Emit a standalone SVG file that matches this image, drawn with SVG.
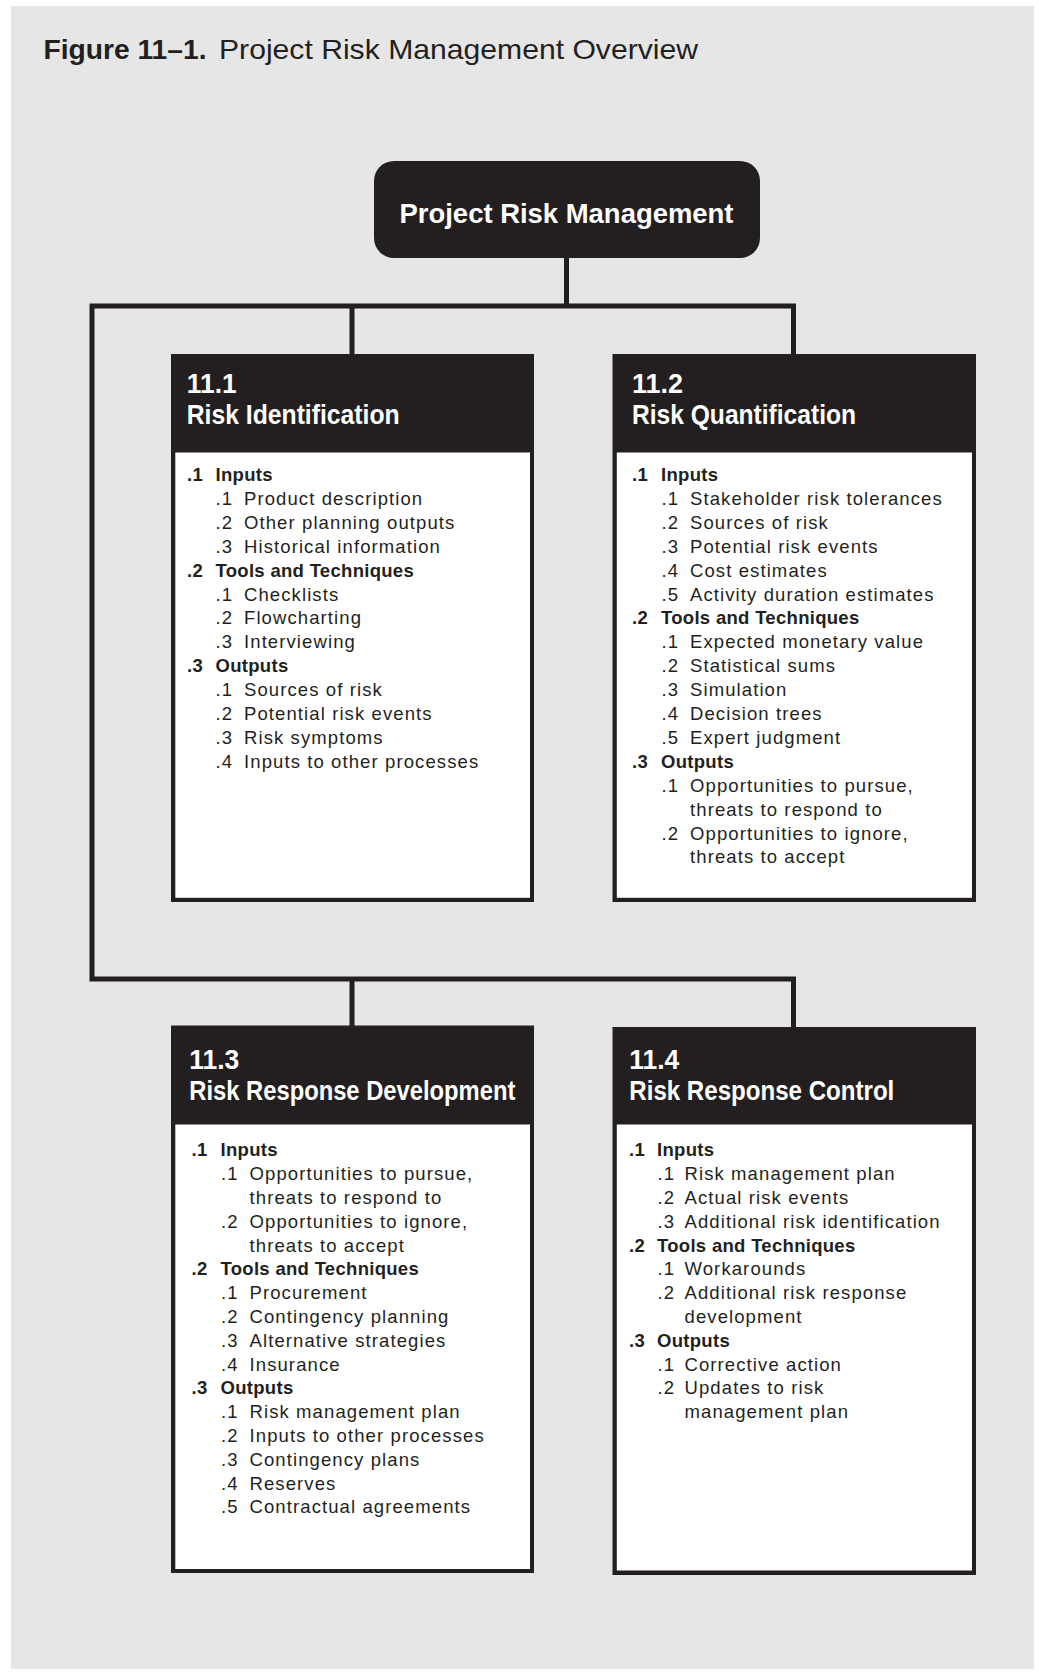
<svg xmlns="http://www.w3.org/2000/svg" width="1039" height="1672" viewBox="0 0 1039 1672">
<style>
.t{font-family:"Liberation Sans",Arial,sans-serif;fill:#231f20}
.b{font-weight:bold;font-size:18.5px;letter-spacing:0.3px}
.r{font-size:18.5px;letter-spacing:1.1px}
.h{font-family:"Liberation Sans",Arial,sans-serif;font-weight:bold;font-size:28px;fill:#ffffff}
.dark{fill:#231f20}
.body{fill:#ffffff}
.conn{fill:none;stroke:#231f20;stroke-width:5;stroke-linejoin:miter}
</style>
<rect x="0" y="0" width="1039" height="1672" fill="#ffffff"/>
<rect x="11" y="6" width="1023" height="1663" fill="#e6e6e6"/>
<g id="title">
<text class="t" x="43.5" y="59.3" font-size="28" font-weight="bold" textLength="163" lengthAdjust="spacingAndGlyphs">Figure 11–1.</text>
<text class="t" x="219" y="59.3" font-size="28" textLength="479" lengthAdjust="spacingAndGlyphs">Project Risk Management Overview</text>
</g>
<g id="connectors">
<path class="conn" d="M566.5 258 V306"/>
<path class="conn" d="M793.5 354 V306 H92 V979 H793.5 V1027"/>
<path class="conn" d="M352 306 V354"/>
<path class="conn" d="M352 979 V1026"/>
</g>
<g id="root">
<rect class="dark" x="374" y="161" width="386" height="97" rx="20" ry="20"/>
<text class="h" x="566.5" y="222.7" font-size="32" text-anchor="middle" textLength="334" lengthAdjust="spacingAndGlyphs">Project Risk Management</text>
</g>
<g id="n11-1">
<rect class="dark" x="171" y="354" width="363" height="548"/>
<rect class="body" x="175.3" y="452.5" width="354.7" height="445.3"/>
<text class="h" x="186.7" y="393.3" textLength="50" lengthAdjust="spacingAndGlyphs">11.1</text>
<text class="h" x="186.7" y="424" textLength="213" lengthAdjust="spacingAndGlyphs">Risk Identification</text>
<text class="t b" x="187" y="481">.1</text><text class="t b" x="215.5" y="481">Inputs</text>
<text class="t r" x="215.5" y="504.9">.1</text><text class="t r" x="244" y="504.9">Product description</text>
<text class="t r" x="215.5" y="528.8">.2</text><text class="t r" x="244" y="528.8">Other planning outputs</text>
<text class="t r" x="215.5" y="552.7">.3</text><text class="t r" x="244" y="552.7">Historical information</text>
<text class="t b" x="187" y="576.6">.2</text><text class="t b" x="215.5" y="576.6">Tools and Techniques</text>
<text class="t r" x="215.5" y="600.5">.1</text><text class="t r" x="244" y="600.5">Checklists</text>
<text class="t r" x="215.5" y="624.4">.2</text><text class="t r" x="244" y="624.4">Flowcharting</text>
<text class="t r" x="215.5" y="648.3">.3</text><text class="t r" x="244" y="648.3">Interviewing</text>
<text class="t b" x="187" y="672.2">.3</text><text class="t b" x="215.5" y="672.2">Outputs</text>
<text class="t r" x="215.5" y="696.1">.1</text><text class="t r" x="244" y="696.1">Sources of risk</text>
<text class="t r" x="215.5" y="720">.2</text><text class="t r" x="244" y="720">Potential risk events</text>
<text class="t r" x="215.5" y="743.9">.3</text><text class="t r" x="244" y="743.9">Risk symptoms</text>
<text class="t r" x="215.5" y="767.8">.4</text><text class="t r" x="244" y="767.8">Inputs to other processes</text>
</g>
<g id="n11-2">
<rect class="dark" x="612.5" y="354" width="363.5" height="548"/>
<rect class="body" x="616.8" y="452.5" width="355.2" height="445.3"/>
<text class="h" x="632" y="393.3" textLength="51" lengthAdjust="spacingAndGlyphs">11.2</text>
<text class="h" x="632" y="424" textLength="224" lengthAdjust="spacingAndGlyphs">Risk Quantification</text>
<text class="t b" x="632" y="481">.1</text><text class="t b" x="661" y="481">Inputs</text>
<text class="t r" x="661.5" y="504.9">.1</text><text class="t r" x="690" y="504.9">Stakeholder risk tolerances</text>
<text class="t r" x="661.5" y="528.8">.2</text><text class="t r" x="690" y="528.8">Sources of risk</text>
<text class="t r" x="661.5" y="552.7">.3</text><text class="t r" x="690" y="552.7">Potential risk events</text>
<text class="t r" x="661.5" y="576.6">.4</text><text class="t r" x="690" y="576.6">Cost estimates</text>
<text class="t r" x="661.5" y="600.5">.5</text><text class="t r" x="690" y="600.5">Activity duration estimates</text>
<text class="t b" x="632" y="624.4">.2</text><text class="t b" x="661" y="624.4">Tools and Techniques</text>
<text class="t r" x="661.5" y="648.3">.1</text><text class="t r" x="690" y="648.3">Expected monetary value</text>
<text class="t r" x="661.5" y="672.2">.2</text><text class="t r" x="690" y="672.2">Statistical sums</text>
<text class="t r" x="661.5" y="696.1">.3</text><text class="t r" x="690" y="696.1">Simulation</text>
<text class="t r" x="661.5" y="720">.4</text><text class="t r" x="690" y="720">Decision trees</text>
<text class="t r" x="661.5" y="743.9">.5</text><text class="t r" x="690" y="743.9">Expert judgment</text>
<text class="t b" x="632" y="767.8">.3</text><text class="t b" x="661" y="767.8">Outputs</text>
<text class="t r" x="661.5" y="791.7">.1</text><text class="t r" x="690" y="791.7">Opportunities to pursue,</text>
<text class="t r" x="690" y="815.6">threats to respond to</text>
<text class="t r" x="661.5" y="839.5">.2</text><text class="t r" x="690" y="839.5">Opportunities to ignore,</text>
<text class="t r" x="690" y="863.4">threats to accept</text>
</g>
<g id="n11-3">
<rect class="dark" x="171" y="1025.5" width="363" height="547.5"/>
<rect class="body" x="175.3" y="1124.5" width="354.7" height="444.5"/>
<text class="h" x="189.3" y="1069" textLength="50" lengthAdjust="spacingAndGlyphs">11.3</text>
<text class="h" x="189.3" y="1100" textLength="326" lengthAdjust="spacingAndGlyphs">Risk Response Development</text>
<text class="t b" x="191.5" y="1156.4">.1</text><text class="t b" x="220.5" y="1156.4">Inputs</text>
<text class="t r" x="221" y="1180.2">.1</text><text class="t r" x="249.5" y="1180.2">Opportunities to pursue,</text>
<text class="t r" x="249.5" y="1204">threats to respond to</text>
<text class="t r" x="221" y="1227.8">.2</text><text class="t r" x="249.5" y="1227.8">Opportunities to ignore,</text>
<text class="t r" x="249.5" y="1251.6">threats to accept</text>
<text class="t b" x="191.5" y="1275.4">.2</text><text class="t b" x="220.5" y="1275.4">Tools and Techniques</text>
<text class="t r" x="221" y="1299.2">.1</text><text class="t r" x="249.5" y="1299.2">Procurement</text>
<text class="t r" x="221" y="1323">.2</text><text class="t r" x="249.5" y="1323">Contingency planning</text>
<text class="t r" x="221" y="1346.8">.3</text><text class="t r" x="249.5" y="1346.8">Alternative strategies</text>
<text class="t r" x="221" y="1370.6">.4</text><text class="t r" x="249.5" y="1370.6">Insurance</text>
<text class="t b" x="191.5" y="1394.4">.3</text><text class="t b" x="220.5" y="1394.4">Outputs</text>
<text class="t r" x="221" y="1418.2">.1</text><text class="t r" x="249.5" y="1418.2">Risk management plan</text>
<text class="t r" x="221" y="1442">.2</text><text class="t r" x="249.5" y="1442">Inputs to other processes</text>
<text class="t r" x="221" y="1465.8">.3</text><text class="t r" x="249.5" y="1465.8">Contingency plans</text>
<text class="t r" x="221" y="1489.6">.4</text><text class="t r" x="249.5" y="1489.6">Reserves</text>
<text class="t r" x="221" y="1513.4">.5</text><text class="t r" x="249.5" y="1513.4">Contractual agreements</text>
</g>
<g id="n11-4">
<rect class="dark" x="612.5" y="1027" width="363.5" height="548"/>
<rect class="body" x="616.8" y="1124.5" width="355.2" height="446"/>
<text class="h" x="629.3" y="1069" textLength="50" lengthAdjust="spacingAndGlyphs">11.4</text>
<text class="h" x="629.3" y="1100" textLength="265" lengthAdjust="spacingAndGlyphs">Risk Response Control</text>
<text class="t b" x="629" y="1156.4">.1</text><text class="t b" x="657" y="1156.4">Inputs</text>
<text class="t r" x="657.5" y="1180.2">.1</text><text class="t r" x="684.5" y="1180.2">Risk management plan</text>
<text class="t r" x="657.5" y="1204">.2</text><text class="t r" x="684.5" y="1204">Actual risk events</text>
<text class="t r" x="657.5" y="1227.8">.3</text><text class="t r" x="684.5" y="1227.8">Additional risk identification</text>
<text class="t b" x="629" y="1251.6">.2</text><text class="t b" x="657" y="1251.6">Tools and Techniques</text>
<text class="t r" x="657.5" y="1275.4">.1</text><text class="t r" x="684.5" y="1275.4">Workarounds</text>
<text class="t r" x="657.5" y="1299.2">.2</text><text class="t r" x="684.5" y="1299.2">Additional risk response</text>
<text class="t r" x="684.5" y="1323">development</text>
<text class="t b" x="629" y="1346.8">.3</text><text class="t b" x="657" y="1346.8">Outputs</text>
<text class="t r" x="657.5" y="1370.6">.1</text><text class="t r" x="684.5" y="1370.6">Corrective action</text>
<text class="t r" x="657.5" y="1394.4">.2</text><text class="t r" x="684.5" y="1394.4">Updates to risk</text>
<text class="t r" x="684.5" y="1418.2">management plan</text>
</g>
</svg>
